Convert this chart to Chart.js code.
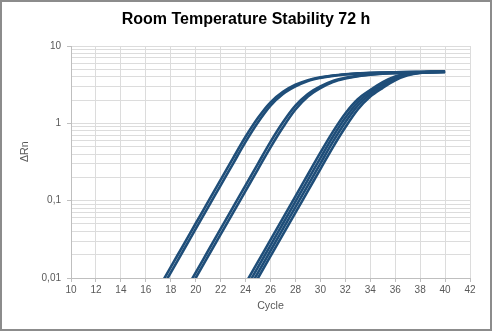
<!DOCTYPE html>
<html><head><meta charset="utf-8">
<script src="https://cdn.jsdelivr.net/npm/chart.js@4"></script>
<style>
html,body{margin:0;padding:0;background:#fff;}
#wrap{position:relative;width:492px;height:331px;box-sizing:border-box;border:2px solid #8c8c8c;background:#fff;}
canvas{display:block}
</style></head><body>
<div id="wrap"><canvas id="c" width="488" height="327"></canvas></div>
<script>
const chartTitle = 'Room Temperature Stability 72 h';
const xTitle = 'Cycle';
const yTitle = 'ΔRn';
const xTicks = [10,12,14,16,18,20,22,24,26,28,30,32,34,36,38,40,42];
const yMajorTicks = [0.01, 0.1, 1, 10];
const yTickLabels = ['0,01', '0,1', '1', '10'];
const cycles = [16,17,18,19,20,21,22,23,24,25,26,27,28,29,30,31,32,33,34,35,36,37,38,39,40];

const seriesA1 = [0.00378,0.00723,0.01383,0.02647,0.05064,0.0969,0.1854,0.3547,0.67,1.18,1.87,2.55,3.15,3.62,3.94,4.16,4.31,4.42,4.49,4.54,4.58,4.61,4.63,4.65,4.67];
const seriesA2 = [null,0.00615,0.01175,0.0225,0.04306,0.0824,0.1576,0.3016,0.575,1.03,1.69,2.39,3.00,3.53,3.87,4.11,4.28,4.40,4.48,4.53,4.57,4.60,4.62,4.64,4.66];
const seriesB1 = [null,null,null,0.00615,0.01175,0.0225,0.04306,0.0824,0.1576,0.3016,0.575,1.03,1.69,2.39,3.00,3.53,3.87,4.11,4.28,4.40,4.48,4.53,4.57,4.60,4.62];
const seriesB2 = [null,null,null,0.00523,0.01,0.01913,0.0366,0.07006,0.134,0.2564,0.49,0.89,1.51,2.22,2.85,3.42,3.80,4.06,4.24,4.37,4.46,4.52,4.56,4.60,4.62];
const seriesC1 = [null,null,null,null,null,null,null,null,0.00851,0.01626,0.03113,0.05957,0.1139,0.218,0.4172,0.775,1.34,2.05,2.70,3.42,4.05,4.43,4.58,4.63,4.65];
const seriesC2 = [null,null,null,null,null,null,null,null,0.00723,0.01383,0.02647,0.05064,0.0969,0.1854,0.3547,0.67,1.18,1.87,2.55,3.24,3.92,4.36,4.56,4.62,4.64];
const seriesC3 = [null,null,null,null,null,null,null,null,0.00615,0.01175,0.0225,0.04306,0.0824,0.1576,0.3016,0.575,1.03,1.69,2.39,3.06,3.77,4.27,4.53,4.61,4.64];
const seriesC4 = [null,null,null,null,null,null,null,null,0.00523,0.01,0.01913,0.0366,0.07006,0.134,0.2564,0.49,0.89,1.51,2.22,2.88,3.60,4.17,4.49,4.60,4.63];

const allSeries = [seriesA1, seriesA2, seriesB1, seriesB2, seriesC1, seriesC2, seriesC3, seriesC4];
const lineColor = '#1f4e79';
const gridColor = '#dcdcdc';
const axisColor = '#bfbfbf';
const textColor = '#595959';
const FONT = "'Liberation Sans', Arial, sans-serif";
Chart.defaults.font.family = FONT;

const datasets = allSeries.map((s, i) => ({
  label: 'Well ' + (i + 1),
  data: cycles.map((c, j) => ({x: c, y: s[j]})).filter(p => p.y !== null),
  borderColor: lineColor,
  backgroundColor: lineColor,
  borderWidth: 2.6,
  pointRadius: 0,
  cubicInterpolationMode: 'monotone',
  fill: false,
  clip: 0
}));

const yTitlePlugin = {
  id: 'yTitlePlugin',
  afterDraw(chart) {
    const ctx = chart.ctx;
    ctx.save();
    ctx.translate(23, 149.7);
    ctx.rotate(-Math.PI / 2);
    ctx.font = '10.7px ' + FONT;
    ctx.fillStyle = textColor;
    ctx.textAlign = 'center';
    ctx.textBaseline = 'middle';
    ctx.fillText(yTitle, 0, 0);
    ctx.restore();
  }
};

function isMajor(v) {
  return yMajorTicks.some(m => Math.abs(v - m) / m < 1e-6);
}

new Chart(document.getElementById('c'), {
  type: 'line',
  data: { datasets },
  plugins: [yTitlePlugin],
  options: {
    responsive: false,
    animation: false,
    devicePixelRatio: 1,
    layout: { padding: { left: 20, right: 20, top: 0, bottom: 12.1 } },
    plugins: {
      legend: { display: false },
      tooltip: { enabled: false },
      title: {
        display: true,
        text: chartTitle,
        color: '#000',
        font: { size: 16, weight: 'bold', family: FONT },
        padding: { top: 8.4, bottom: 16.4 }
      }
    },
    scales: {
      x: {
        type: 'linear',
        min: 10, max: 42,
        afterFit(s) { s.height = 38.9; },
        afterBuildTicks(s) { s.ticks = xTicks.map(v => ({ value: v })); },
        ticks: { autoSkip: false, maxRotation: 0, padding: 2, color: textColor, font: { size: 10 } },
        grid: { color: gridColor, tickColor: axisColor, tickLength: 4, lineWidth: 1 },
        border: { color: axisColor, width: 1 },
        title: { display: true, text: xTitle, color: textColor, font: { size: 10.7 }, padding: { top: 4, bottom: 4 } }
      },
      y: {
        type: 'logarithmic',
        min: 0.01, max: 10,
        afterFit(s) { s.width = 49; },
        afterBuildTicks(s) {
          const t = [];
          for (let d = 0; d < yMajorTicks.length - 1; d++) {
            for (let m = 1; m <= 9; m++) {
              t.push({ value: m * yMajorTicks[d], major: m === 1 });
            }
          }
          t.push({ value: yMajorTicks[yMajorTicks.length - 1], major: true });
          s.ticks = t;
        },
        ticks: {
          autoSkip: false, padding: 6, color: textColor, font: { size: 10 },
          callback(v) {
            const i = yMajorTicks.findIndex(m => Math.abs(v - m) / m < 1e-6);
            return i >= 0 ? yTickLabels[i] : '';
          }
        },
        grid: {
          color: gridColor,
          tickLength: 4,
          tickColor: ctx => (ctx.tick && isMajor(ctx.tick.value)) ? axisColor : 'rgba(0,0,0,0)'
        },
        border: { color: axisColor, width: 1 }
      }
    }
  }
});
</script>
</body></html>
